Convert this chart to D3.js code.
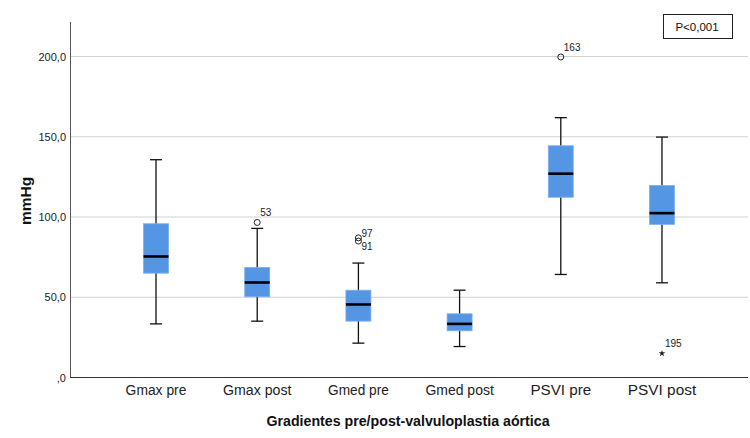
<!DOCTYPE html>
<html>
<head>
<meta charset="utf-8">
<script src="https://cdn.jsdelivr.net/npm/d3@7"></script>
<style>
  body { margin: 0; background: #fff; }
  text { font-family: "Liberation Sans", Arial, sans-serif; }
</style>
</head>
<body>
<svg id="chart" width="750" height="438"></svg>
<script>
// categories and box statistics
const categories = ["Gmax pre", "Gmax post", "Gmed pre", "Gmed post", "PSVI pre", "PSVI post"];
const whiskerLow  = [33.4, 35.1, 21.4, 19.3, 64.2, 59.0];
const q1          = [65.0, 50.3, 35.1, 29.1, 112.3, 95.4];
const median      = [75.4, 59.2, 45.5, 33.4, 127.0, 102.4];
const q3          = [95.8, 68.6, 54.4, 39.7, 144.4, 119.7];
const whiskerHigh = [135.7, 92.9, 71.3, 54.4, 161.9, 149.8];

// outliers: category index, value, case label, kind
const outCat   = [1, 2, 2, 4, 5];
const outValue = [96.6, 87.0, 85.0, 199.7, 15.0];
const outLabel = ["53", "97", "91", "163", "195"];
const outKind  = ["o", "o", "o", "o", "*"];

const yTicks = [0, 50, 100, 150, 200];

window.addEventListener("load", makeBoxes);
function makeBoxes() {
  const svg = d3.select("#chart");
  const left = 70, right = 748, top = 22, bottom = 377.5;

  const x = d3.scalePoint().domain(categories).range([left, right]).padding(0.85);
  const y = d3.scaleLinear().domain([0, 221.5]).range([bottom, top]);

  const fmt = v => v === 0 ? ",0" : d3.format(".1f")(v).replace(".", ",");

  // gridlines
  svg.append("g").selectAll("line")
    .data(yTicks.filter(d => d > 0))
    .join("line")
      .attr("x1", left).attr("x2", right)
      .attr("y1", d => y(d)).attr("y2", d => y(d))
      .attr("stroke", "#d2d2d2").attr("stroke-width", 1.2);

  // y tick labels
  svg.append("g").selectAll("text")
    .data(yTicks)
    .join("text")
      .attr("x", left - 4).attr("y", d => y(d) + 4)
      .attr("text-anchor", "end")
      .attr("font-size", 11).attr("fill", "#222")
      .text(fmt);

  // axes
  svg.append("line").attr("x1", left + 0.5).attr("x2", left + 0.5)
    .attr("y1", top).attr("y2", bottom).attr("stroke", "#555").attr("stroke-width", 1);
  svg.append("line").attr("x1", left).attr("x2", right)
    .attr("y1", bottom).attr("y2", bottom).attr("stroke", "#333").attr("stroke-width", 1);

  const rows = categories.map((c, i) => ({
    c, lo: whiskerLow[i], q1: q1[i], med: median[i], q3: q3[i], hi: whiskerHigh[i]
  }));

  const bw = 25, cap = 12;
  const g = svg.append("g").selectAll("g").data(rows).join("g");

  // whiskers
  g.append("line")
    .attr("x1", d => x(d.c)).attr("x2", d => x(d.c))
    .attr("y1", d => y(d.hi)).attr("y2", d => y(d.lo))
    .attr("stroke", "#111").attr("stroke-width", 1.3);
  g.append("line")
    .attr("x1", d => x(d.c) - cap / 2).attr("x2", d => x(d.c) + cap / 2)
    .attr("y1", d => y(d.hi)).attr("y2", d => y(d.hi))
    .attr("stroke", "#111").attr("stroke-width", 1.3);
  g.append("line")
    .attr("x1", d => x(d.c) - cap / 2).attr("x2", d => x(d.c) + cap / 2)
    .attr("y1", d => y(d.lo)).attr("y2", d => y(d.lo))
    .attr("stroke", "#111").attr("stroke-width", 1.3);

  // boxes
  g.append("rect")
    .attr("x", d => x(d.c) - bw / 2).attr("width", bw)
    .attr("y", d => y(d.q3)).attr("height", d => y(d.q1) - y(d.q3))
    .attr("fill", "#5596e4").attr("stroke", "#7fb0ee").attr("stroke-width", 0.8);

  // medians
  g.append("line")
    .attr("x1", d => x(d.c) - bw / 2).attr("x2", d => x(d.c) + bw / 2)
    .attr("y1", d => y(d.med)).attr("y2", d => y(d.med))
    .attr("stroke", "#000").attr("stroke-width", 2.6);

  // outliers
  const outs = outValue.map((v, i) => ({ c: categories[outCat[i]], v, label: outLabel[i], kind: outKind[i] }));
  const og = svg.append("g").selectAll("g").data(outs).join("g");
  og.filter(d => d.kind === "o").append("circle")
    .attr("cx", d => x(d.c)).attr("cy", d => y(d.v)).attr("r", 3)
    .attr("fill", "none").attr("stroke", "#222").attr("stroke-width", 1);
  og.filter(d => d.kind === "*").append("path")
    .attr("transform", d => "translate(" + x(d.c) + "," + y(d.v) + ")")
    .attr("d", d3.symbol(d3.symbolStar, 14))
    .attr("fill", "#222");
  const dy = { "97": -1, "91": 9 };
  og.append("text")
    .attr("x", d => x(d.c) + 3)
    .attr("y", d => y(d.v) + (d.label in dy ? dy[d.label] : -6))
    .attr("font-size", 10).attr("fill", "#222")
    .text(d => d.label);

  // category labels
  svg.append("g").selectAll("text")
    .data(categories)
    .join("text")
      .attr("x", d => x(d)).attr("y", 395)
      .attr("text-anchor", "middle").attr("font-size", 14).attr("fill", "#222")
      .attr("textLength", d => d.length * 7.6).attr("lengthAdjust", "spacingAndGlyphs")
      .text(d => d);

  // axis titles
  svg.append("text")
    .attr("x", 408).attr("y", 426)
    .attr("text-anchor", "middle").attr("font-size", 14.2).attr("font-weight", "bold")
    .attr("fill", "#111")
    .text("Gradientes pre/post-valvuloplastia aórtica");
  svg.append("text")
    .attr("transform", "translate(31," + y(110) + ") rotate(-90)")
    .attr("text-anchor", "middle").attr("font-size", 15.5).attr("font-weight", "bold")
    .attr("fill", "#111")
    .text("mmHg");

  // p-value box
  svg.append("rect").attr("x", 663.5).attr("y", 14.5).attr("width", 69).attr("height", 24)
    .attr("fill", "#fff").attr("stroke", "#222").attr("stroke-width", 1);
  svg.append("text").attr("x", 697).attr("y", 31).attr("text-anchor", "middle")
    .attr("font-size", 11.5).attr("fill", "#111").text("P<0,001");
}
</script>
</body>
</html>
